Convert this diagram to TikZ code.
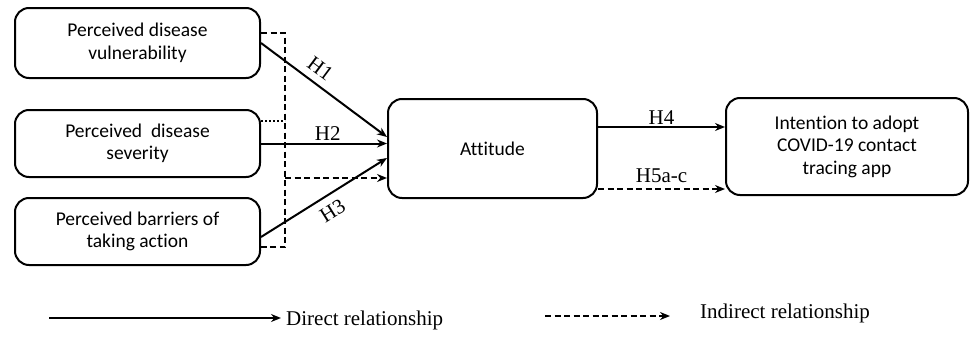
\documentclass[tikz,border=0pt]{standalone}
\usepackage{fontspec}
\setmainfont{Liberation Serif}
\newfontfamily\boxfont[Ligatures=NoCommon]{Carlito}
\usetikzlibrary{arrows.meta,positioning}
\begin{document}
\begin{tikzpicture}[x=1pt,y=-1pt,
  cbox/.style={draw,line width=2pt,rounded corners=14pt,align=center,
    font=\boxfont\fontsize{19.5}{22.5}\selectfont,inner sep=0pt},
  rel/.style={line width=2pt,-{Stealth[length=10pt,width=8pt]}},
  indrel/.style={rel,dash pattern=on 6pt off 3.5pt},
  brack/.style={line width=2pt,dash pattern=on 6pt off 3.5pt},
  dotl/.style={line width=2pt,dash pattern=on 2pt off 2pt},
  hlab/.style={font=\fontsize{21}{24}\selectfont,inner sep=2pt},
  leg/.style={font=\fontsize{21}{24}\selectfont,anchor=west,inner sep=0pt}]
\useasboundingbox (0,0) rectangle (970,340);
\node[cbox,minimum width=245pt,minimum height=70pt] (b1) at (137.5,43) {Perceived disease\\vulnerability};
\node[cbox,minimum width=245pt,minimum height=67pt] (b2) at (137.5,143.5) {Perceived\ \ disease\\severity};
\node[cbox,minimum width=245pt,minimum height=67pt] (b3) at (137.5,231.5) {Perceived barriers of\\taking action};
\node[cbox,minimum width=209pt,minimum height=99pt] (att) at (492.5,148.5) {Attitude};
\node[cbox,minimum width=242pt,minimum height=97pt] (int) at (847,146.5) {Intention to adopt\\COVID-19 contact\\tracing app};
% bracket
\coordinate (bt) at (285,33);
\coordinate (bm) at (285,121);
\coordinate (bd) at (285,178);
\coordinate (bb) at (285,247);
\draw[brack] ([yshift=10pt]b1.east) -- (bt) -- (bb) -- ([yshift=-15.5pt]b3.east);
\draw[dotl] ([yshift=22.5pt]b2.east) -- (bm);
\draw[indrel] (bd) -- (att.west |- bd);
% direct paths
\draw[rel] (b1.east) -- node[hlab,sloped,above=5pt,pos=0.4] {H1} ([yshift=11.5pt]att.west);
\draw[rel] (b2.east) -- node[hlab,above=0pt,pos=0.53] {H2} (att.west |- b2.east);
\draw[rel] ([yshift=-5.5pt]b3.east) -- node[hlab,sloped,below=6pt,pos=0.5] {H3} ([yshift=-9.5pt]att.west);
\coordinate (h4s) at ([yshift=21.5pt]att.east);
\coordinate (h5s) at ([yshift=-40.5pt]att.east);
\draw[rel] (h4s) -- node[hlab,above=0pt] {H4} (int.west |- h4s);
\draw[indrel] (h5s) -- node[hlab,above=3pt] {H5a-c} (int.west |- h5s);
% legend
\coordinate (l1a) at (49,318);
\coordinate (l1b) at (281,318);
\coordinate (l2a) at (545,316);
\coordinate (l2b) at (670,316);
\draw[rel] (l1a) -- (l1b);
\node[leg] (t1) at (286,320) {Direct relationship};
\draw[indrel] (l2a) -- (l2b);
\node[leg] (t2) at (700,313) {Indirect relationship};
\end{tikzpicture}
\end{document}
